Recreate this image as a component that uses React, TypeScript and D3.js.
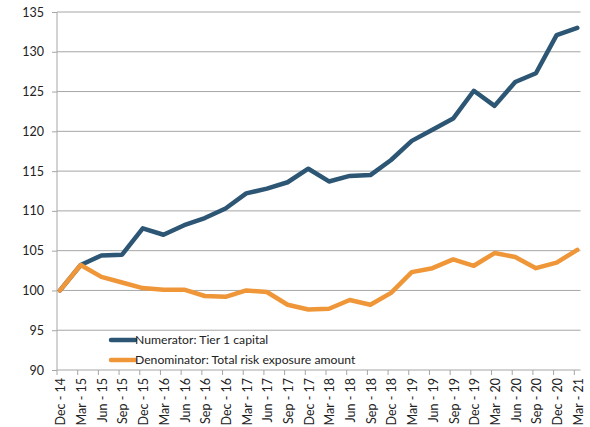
import React, { useEffect, useRef } from 'react';
import * as d3 from 'd3';

const quarters = [
  'Dec - 14', 'Mar - 15', 'Jun - 15', 'Sep - 15', 'Dec - 15', 'Mar - 16', 'Jun - 16',
  'Sep - 16', 'Dec - 16', 'Mar - 17', 'Jun - 17', 'Sep - 17', 'Dec - 17', 'Mar - 18',
  'Jun - 18', 'Sep - 18', 'Dec - 18', 'Mar - 19', 'Jun - 19', 'Sep - 19', 'Dec - 19',
  'Mar - 20', 'Jun - 20', 'Sep - 20', 'Dec - 20', 'Mar - 21',
];

const numerator = [
  100, 103.2, 104.4, 104.5, 107.8, 107.0, 108.2, 109.1, 110.3, 112.2, 112.8, 113.6, 115.3,
  113.7, 114.4, 114.5, 116.4, 118.8, 120.2, 121.6, 125.1, 123.2, 126.2, 127.3, 132.1, 133.0,
];

const denominator = [
  100, 103.2, 101.7, 101.0, 100.3, 100.1, 100.1, 99.3, 99.2, 100.0, 99.8, 98.2, 97.6,
  97.7, 98.8, 98.2, 99.7, 102.3, 102.8, 103.9, 103.1, 104.7, 104.2, 102.8, 103.5, 105.1,
];

const yTicks = [90, 95, 100, 105, 110, 115, 120, 125, 130, 135];

const seriesNames = ['Numerator: Tier 1 capital', 'Denominator: Total risk exposure amount'];
const seriesColors = ['#2c5674', '#ef9638'];

const App = () => {
  const svgRef = useRef<SVGSVGElement>(null);

  useEffect(() => {
    const svg = d3.select(svgRef.current);
    svg.selectAll('*').remove();

    const font = 'Lato, "Liberation Sans", sans-serif';
    const left = 57;
    const right = 580.5;
    const top = 12;
    const bottom = 370;

    const x = d3.scalePoint<string>().domain(quarters).range([60, 577.3]);
    const y = d3.scaleLinear().domain([90, 135]).range([bottom, top]);

    // gridlines
    svg.append('g')
      .selectAll('line')
      .data(yTicks.filter(t => t > 90))
      .enter()
      .append('line')
      .attr('x1', left)
      .attr('x2', right)
      .attr('y1', d => y(d))
      .attr('y2', d => y(d))
      .attr('stroke', '#a6a6a6')
      .attr('stroke-width', 1);

    // y axis
    const yAxis = svg.append('g').attr('transform', `translate(${left},0)`)
      .call(d3.axisLeft(y).tickValues(yTicks).tickSize(5).tickPadding(8));
    yAxis.select('.domain').attr('stroke', '#a6a6a6').attr('d', `M0,${top}V${bottom}`);
    yAxis.selectAll('.tick line').attr('stroke', '#a6a6a6');
    yAxis.selectAll('text')
      .attr('font-family', font)
      .attr('font-size', 12.5)
      .attr('fill', '#222');

    // x axis
    const xg = svg.append('g');
    xg.append('line')
      .attr('x1', left).attr('x2', right)
      .attr('y1', bottom).attr('y2', bottom)
      .attr('stroke', '#a6a6a6');
    xg.selectAll('line.tk')
      .data(quarters)
      .enter()
      .append('line')
      .attr('class', 'tk')
      .attr('x1', d => (x(d) as number) - 3)
      .attr('x2', d => (x(d) as number) - 3)
      .attr('y1', bottom)
      .attr('y2', bottom + 5)
      .attr('stroke', '#a6a6a6');
    xg.selectAll('text')
      .data(quarters)
      .enter()
      .append('text')
      .attr('transform', d => `translate(${(x(d) as number) + 1},${bottom + 8}) rotate(-90)`)
      .attr('text-anchor', 'end')
      .attr('dy', '0.35em')
      .attr('font-family', font)
      .attr('font-size', 12.5)
      .attr('fill', '#222')
      .text(d => d);

    // lines
    const line = d3.line<number>()
      .x((_, i) => x(quarters[i]) as number)
      .y(d => y(d));

    [numerator, denominator].forEach((s, i) => {
      svg.append('path')
        .datum(s)
        .attr('d', line)
        .attr('fill', 'none')
        .attr('stroke', seriesColors[i])
        .attr('stroke-width', 4.5)
        .attr('stroke-linejoin', 'round')
        .attr('stroke-linecap', 'round');
    });

    // legend
    const legend = svg.append('g');
    seriesNames.forEach((name, i) => {
      const ly = 340 + i * 20;
      legend.append('line')
        .attr('x1', 111).attr('x2', 135)
        .attr('y1', ly).attr('y2', ly)
        .attr('stroke', seriesColors[i])
        .attr('stroke-width', 4.5)
        .attr('stroke-linecap', 'round');
      legend.append('text')
        .attr('x', 135)
        .attr('y', ly)
        .attr('dy', '0.35em')
        .attr('font-family', font)
        .attr('font-size', 12.2)
        .attr('fill', '#222')
        .text(name);
    });
  }, []);

  return (
    <svg
      ref={svgRef}
      width={590}
      height={427}
      style={{ position: 'absolute', left: 0, top: 0, background: '#fff' }}
    />
  );
};

export default App;
